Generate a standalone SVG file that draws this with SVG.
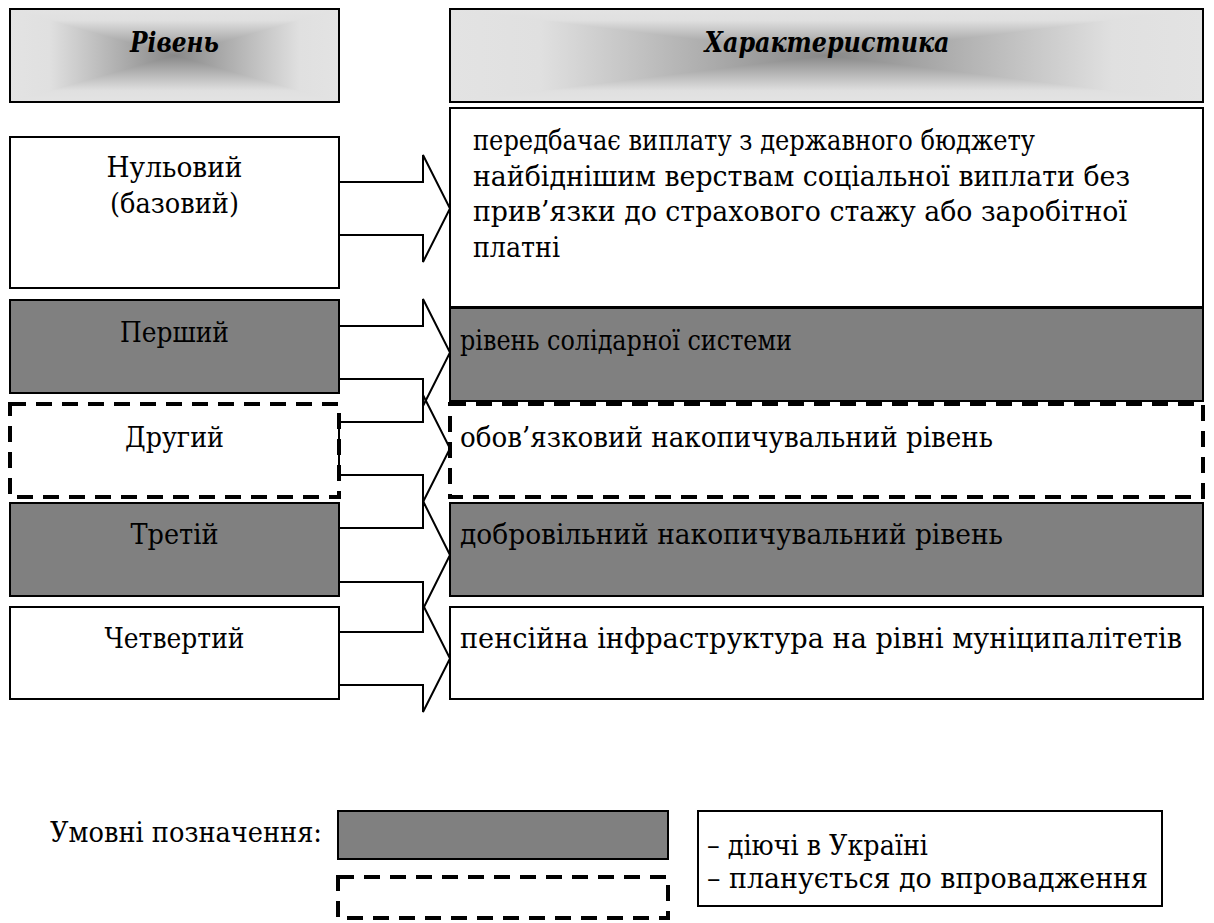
<svg xmlns="http://www.w3.org/2000/svg" width="1214" height="923" viewBox="0 0 1214 923">
<style>
.t{font-family:"DejaVu Serif","Liberation Serif",serif;font-size:28px;fill:#000}
.hd{font-weight:bold;font-style:italic}
.c{text-anchor:middle}
.box{stroke:#000;stroke-width:2}
.w{fill:#fff}
.g{fill:#808080}
.dash{fill:#fff;stroke:#000;stroke-width:4;stroke-dasharray:16 10}
.arr{fill:none;stroke:#000;stroke-width:2;stroke-linejoin:miter}
</style>
<defs>
<linearGradient id="gH" x1="0" y1="0" x2="1" y2="0">
<stop offset="0" stop-color="#e3e3e3"/>
<stop offset="0.12" stop-color="#e0e0e0"/>
<stop offset="0.5" stop-color="#888"/>
<stop offset="0.88" stop-color="#e0e0e0"/>
<stop offset="1" stop-color="#e3e3e3"/>
</linearGradient>
<linearGradient id="gT" x1="0" y1="0" x2="0" y2="1">
<stop offset="0" stop-color="#e3e3e3"/>
<stop offset="0.24" stop-color="#e0e0e0"/>
<stop offset="1" stop-color="#888"/>
</linearGradient>
<linearGradient id="gB" x1="0" y1="0" x2="0" y2="1">
<stop offset="0" stop-color="#888"/>
<stop offset="0.76" stop-color="#e0e0e0"/>
<stop offset="1" stop-color="#e3e3e3"/>
</linearGradient>
</defs>
<g id="header-level">
<rect x="10" y="9" width="329" height="93" fill="url(#gH)"/>
<polygon points="10,9 339,9 174.5,55.5" fill="url(#gT)"/>
<polygon points="10,102 339,102 174.5,55.5" fill="url(#gB)"/>
<rect x="10" y="9" width="329" height="93" fill="none" class="box"/>
<text class="t hd c" x="174.5" y="52" textLength="89" lengthAdjust="spacingAndGlyphs">Рівень</text>
</g>
<g id="header-char">
<rect x="450" y="9" width="753" height="93" fill="url(#gH)"/>
<polygon points="450,9 1203,9 826.5,55.5" fill="url(#gT)"/>
<polygon points="450,102 1203,102 826.5,55.5" fill="url(#gB)"/>
<rect x="450" y="9" width="753" height="93" fill="none" class="box"/>
<text class="t hd c" x="827" y="52" textLength="245" lengthAdjust="spacingAndGlyphs">Характеристика</text>
</g>

<g id="level-0">
<rect class="box w" x="10" y="137" width="329" height="151"/>
<text class="t c" x="174.5" y="177" textLength="136" lengthAdjust="spacingAndGlyphs">Нульовий</text>
<text class="t c" x="174.5" y="213" textLength="129" lengthAdjust="spacingAndGlyphs">(базовий)</text>
</g>
<g id="level-1">
<rect class="box g" x="10" y="300" width="329" height="93"/>
<text class="t c" x="174.5" y="342" textLength="109" lengthAdjust="spacingAndGlyphs">Перший</text>
</g>
<g id="level-2">
<rect class="dash" x="10" y="404" width="329" height="93"/>
<text class="t c" x="174.5" y="447" textLength="99" lengthAdjust="spacingAndGlyphs">Другий</text>
</g>
<g id="level-3">
<rect class="box g" x="10" y="503" width="329" height="93"/>
<text class="t c" x="174.5" y="544" textLength="88" lengthAdjust="spacingAndGlyphs">Третій</text>
</g>
<g id="level-4">
<rect class="box w" x="10" y="607" width="329" height="92"/>
<text class="t c" x="174.5" y="648" textLength="140" lengthAdjust="spacingAndGlyphs">Четвертий</text>
</g>

<g id="char-0">
<rect class="box w" x="450" y="108" width="753" height="199"/>
<text class="t" x="473" y="150" textLength="562" lengthAdjust="spacingAndGlyphs">передбачає виплату з державного бюджету</text>
<text class="t" x="473" y="186" textLength="657" lengthAdjust="spacingAndGlyphs">найбіднішим верствам соціальної виплати без</text>
<text class="t" x="473" y="221" textLength="654" lengthAdjust="spacingAndGlyphs">прив’язки до страхового стажу або заробітної</text>
<text class="t" x="473" y="257" textLength="87" lengthAdjust="spacingAndGlyphs">платні</text>
</g>
<g id="char-1">
<rect class="box g" x="450" y="308" width="753" height="93"/>
<text class="t" x="460" y="350" textLength="332" lengthAdjust="spacingAndGlyphs">рівень солідарної системи</text>
</g>
<g id="char-2">
<rect class="dash" x="450" y="404" width="753" height="93"/>
<text class="t" x="460" y="447" textLength="533" lengthAdjust="spacingAndGlyphs">обов’язковий накопичувальний рівень</text>
</g>
<g id="char-3">
<rect class="box g" x="450" y="503" width="753" height="93"/>
<text class="t" x="460" y="544" textLength="543" lengthAdjust="spacingAndGlyphs">добровільний накопичувальний рівень</text>
</g>
<g id="char-4">
<rect class="box w" x="450" y="607" width="753" height="92"/>
<text class="t" x="460" y="648" textLength="722" lengthAdjust="spacingAndGlyphs">пенсійна інфраструктура на рівні муніципалітетів</text>
</g>

<g id="connectors">
<polygon class="arr" points="339,182 423,182 423,155 450,208.5 423,262 423,235 339,235"/>
<polygon class="arr" points="339,326 423,326 423,299 450,352.5 423,406 423,379 339,379"/>
<polygon class="arr" points="339,422 423,422 423,395 450,448.5 423,502 423,475 339,475"/>
<polygon class="arr" points="339,528 423,528 423,501 450,555 423,609 423,582 339,582"/>
<polygon class="arr" points="339,632 423,632 423,605 450,658.5 423,712 423,685 339,685"/>
</g>

<g id="legend">
<text class="t" x="50" y="842" textLength="272" lengthAdjust="spacingAndGlyphs">Умовні позначення:</text>
<rect class="box g" x="338" y="811" width="330" height="48"/>
<rect class="dash" x="338" y="877" width="330" height="41"/>
<rect class="box w" x="698" y="811" width="464" height="95"/>
<text class="t" x="707" y="855" textLength="221" lengthAdjust="spacingAndGlyphs">– діючі в Україні</text>
<text class="t" x="707" y="888" textLength="441" lengthAdjust="spacingAndGlyphs">– планується до впровадження</text>
</g>
</svg>
